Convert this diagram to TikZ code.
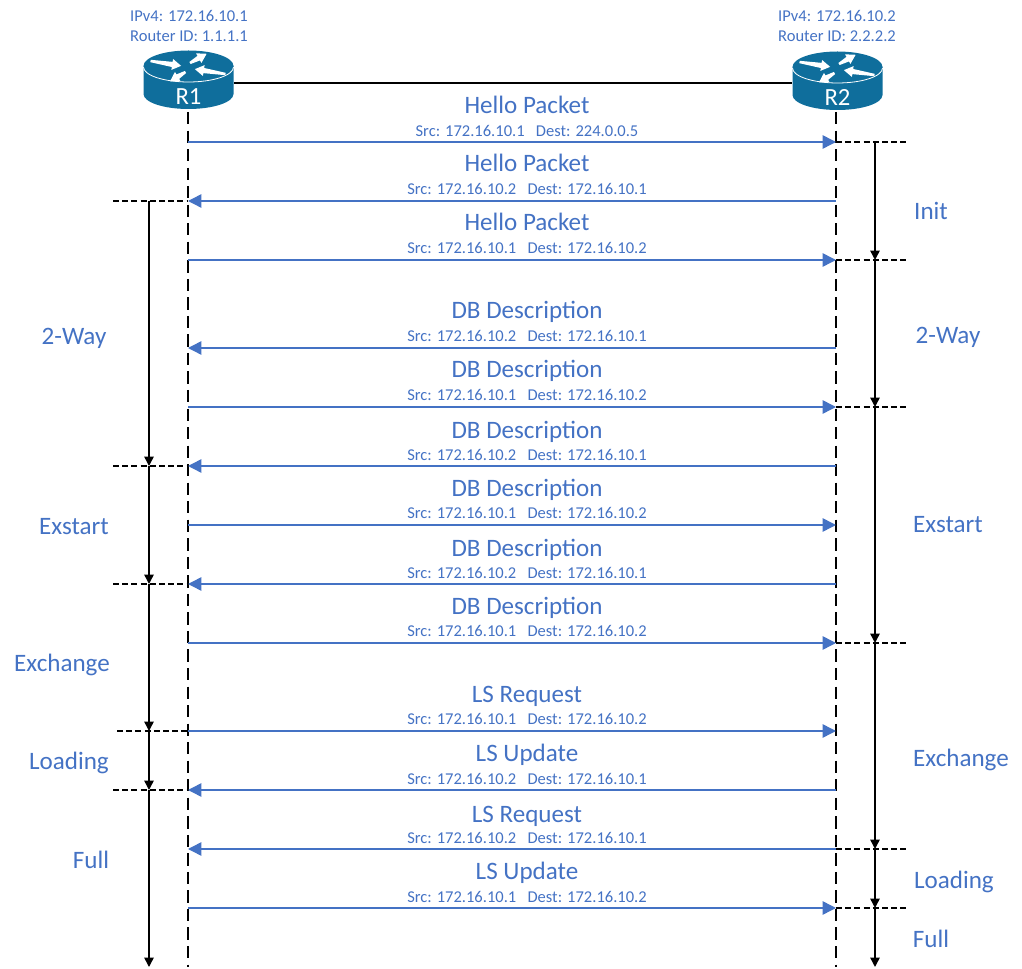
\documentclass[tikz,border=0pt]{standalone}
\usepackage{fontspec}
\setmainfont{Carlito}
\usetikzlibrary{arrows.meta}
\definecolor{msgblue}{HTML}{4472C4}
\definecolor{routerblue}{HTML}{0F6E9C}
\newcommand{\titlesize}{\fontsize{18.8}{21}\selectfont}
\newcommand{\subsize}{\fontsize{12.4}{14}\selectfont}
\tikzset{
    lifeline/.style={draw=black, line width=1.1pt, dash pattern=on 9.2pt off 4.7pt},
    tickline/.style={draw=black, line width=0.9pt, dash pattern=on 4.5pt off 2.4pt},
    msgline/.style={draw=msgblue, line width=1.1pt, -{Triangle[length=10pt,width=10pt]}},
    stateline/.style={draw=black, line width=1.1pt, -{Triangle[length=7pt,width=7pt]}},
    msgtitle/.style={text=msgblue, font=\titlesize, inner sep=0pt},
    msgsub/.style={text=msgblue, font=\subsize, inner sep=0pt},
    routerbox/.style={inner sep=0pt, minimum width=67.5pt, minimum height=44pt, text=white, font=\fontsize{18.5}{20}\selectfont},
    router/.pic={
        \fill[routerblue] (-45,0) -- (-45,28) arc[start angle=180, end angle=0, x radius=45, y radius=15] -- (45,0) -- cycle;
        \fill[routerblue] (0,0) ellipse [x radius=45, y radius=15.5];
        \draw[white, line width=0.6pt] (-45,1) arc[start angle=180, end angle=0, x radius=45, y radius=15];
        \foreach \x/\y/\a/\l in {-38/-5/-9/31,1.5/-3/29/19,37/8/171/31,-3/6/211/18}{
            \fill[white, shift={(\x,\y)}, rotate=\a] (0,-1.2) -- (\l-9,-2.6) -- (\l-9,-5.5) -- (\l,0)
                -- (\l-9,5.5) -- (\l-9,2.6) -- (0,1.2) -- cycle;
        }
    }
}

\begin{document}
\begin{tikzpicture}[x=0.75pt, y=-0.75pt]
    \useasboundingbox (0,0) rectangle (1022,969);

    % routers
    \pic at (188.5,66) {router};
    \pic at (837.5,67) {router};
    \node[routerbox] (R1) at (188.5,80) {\raisebox{-18.2pt}[0pt][0pt]{R1}};
    \node[routerbox] (R2) at (837.5,81) {\raisebox{-18.2pt}[0pt][0pt]{R2}};
    \node[msgsub, align=center] (info1) at (189,25.5) {IPv4: 172.16.10.1\\[1pt]Router ID: 1.1.1.1};
    \node[msgsub, align=center] (info2) at (837,25.5) {IPv4: 172.16.10.2\\[1pt]Router ID: 2.2.2.2};
    \draw[line width=1.1pt] (R1.east |- 0,83) -- (R2.west |- 0,83);

    % lifelines
    \coordinate (endA) at (188,967);
    \coordinate (endB) at (836,967);
    \draw[lifeline] (188,112) -- (endA);
    \draw[lifeline] (836,112) -- (endB);

    % packets
    \foreach \i/\y/\b/\c/\t/\s/\d/\from/\to in {
        1/142/114/136.5/Hello Packet/172.16.10.1/224.0.0.5/a/b,
        2/201/172/194.5/Hello Packet/172.16.10.2/172.16.10.1/b/a,
        3/260/230.5/253.5/Hello Packet/172.16.10.1/172.16.10.2/a/b,
        4/348/319/341.5/DB Description/172.16.10.2/172.16.10.1/b/a,
        5/407/378/400.5/DB Description/172.16.10.1/172.16.10.2/a/b,
        6/466/439/460.5/DB Description/172.16.10.2/172.16.10.1/b/a,
        7/525/497/519/DB Description/172.16.10.1/172.16.10.2/a/b,
        8/584/557/578.5/DB Description/172.16.10.2/172.16.10.1/b/a,
        9/643/615/637/DB Description/172.16.10.1/172.16.10.2/a/b,
        10/731/703/725/LS Request/172.16.10.1/172.16.10.2/a/b,
        11/790/762/785/LS Update/172.16.10.2/172.16.10.1/b/a,
        12/849/822/844/LS Request/172.16.10.2/172.16.10.1/b/a,
        13/908/879/902/LS Update/172.16.10.1/172.16.10.2/a/b}{
        \coordinate (a\i) at (188,\y);
        \coordinate (b\i) at (836,\y);
        \draw[msgline] (\from\i) -- (\to\i);
        \node[msgtitle, anchor=base] (t\i) at (527,\b) {\t};
        \node[msgsub, anchor=base] (s\i) at (527,\c) {Src: \s~~~Dest: \d};
    }

    % state marks on the left
    \foreach \y/\i/\x in {201/1/113,466/2/113,584/3/113,731/4/117,790/5/113}{
        \coordinate (p\i) at (149,\y);
        \coordinate (q\i) at (\x,\y);
        \draw[tickline] (q\i) -- (188,\y);
    }
    \coordinate (p6) at (149,967);
    \foreach \x/\y in {1/2,2/3,3/4,4/5,5/6}{
        \draw[stateline] (p\x) -- (p\y);
    }

    % state marks on the right
    \foreach \y/\i in {142/1,260/2,407/3,643/4,849/5,908/6}{
        \coordinate (u\i) at (875,\y);
        \coordinate (v\i) at (907,\y);
        \draw[tickline] (836,\y) -- (v\i);
    }
    \coordinate (u7) at (875,967);
    \foreach \x/\y in {1/2,2/3,3/4,4/5,5/6,6/7}{
        \draw[stateline] (u\x) -- (u\y);
    }

    % state names
    \foreach \n/\x/\y/\t in {la/74/338/2-Way,lb/74/527/Exstart,lc/62/665/Exchange,ld/69/763/Loading,le/91/860/Full,
                             ra/931/211/Init,rb/948/337/2-Way,rc/948/525/Exstart,rd/961/760/Exchange,re/954/882/Loading,rf/931/939/Full}{
        \node[msgtitle] (\n) at (\x,\y) {\t};
    }
\end{tikzpicture}
\end{document}
